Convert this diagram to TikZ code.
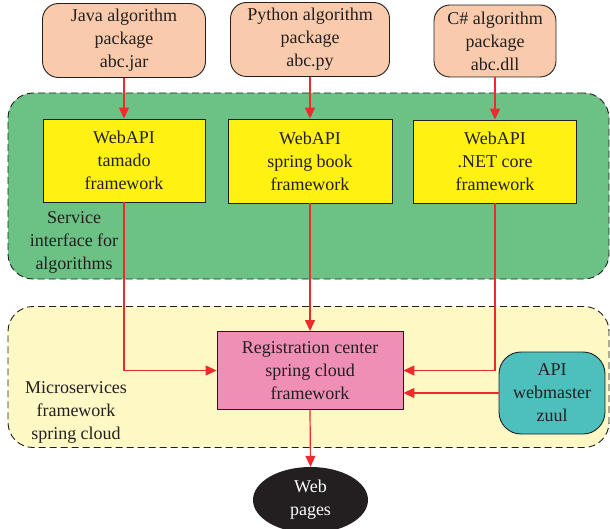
\documentclass[tikz,border=0pt]{standalone}
\usepackage{fontspec}
\setmainfont{Liberation Serif}
\usetikzlibrary{arrows.meta,shapes.geometric}
\definecolor{peach}{HTML}{F9CBAC}
\definecolor{greenbg}{HTML}{6CC185}
\definecolor{yelbox}{HTML}{FFF212}
\definecolor{yelbg}{HTML}{FEF8C5}
\definecolor{pinkbox}{HTML}{F08FB5}
\definecolor{tealbox}{HTML}{4DC0BE}
\definecolor{darkink}{HTML}{231F20}
\definecolor{redarrow}{HTML}{EE2A2A}
\tikzset{
  txt/.style={font=\fontsize{18}{23}\selectfont, text=darkink, align=center},
  region/.style={draw=darkink, dashed, dash pattern=on 7pt off 4pt, line width=0.9pt, rounded corners=25pt},
  pkg/.style={txt, draw=darkink, line width=0.9pt, fill=peach, rounded corners=16pt, inner sep=0pt},
  apibox/.style={txt, draw=darkink, line width=0.9pt, fill=yelbox, inner sep=0pt},
  arr/.style={draw=redarrow, line width=1.2pt, -{Triangle[length=11pt,width=10pt]}},
}
\begin{document}
\begin{tikzpicture}[x=1pt,y=-1pt]
\useasboundingbox (0,0) rectangle (610,529);
\clip (0,0) rectangle (610,529);
% regions
\node[region, fill=greenbg, minimum width=601pt, minimum height=186pt] (svc) at (308.5,186) {};
\node[region, fill=yelbg, minimum width=601pt, minimum height=141pt] (micro) at (308.5,377) {};
% top packages
\node[pkg, minimum width=163pt, minimum height=74pt] (java) at (124,40.5) {Java algorithm\\package\\abc.jar};
\node[pkg, minimum width=159pt, minimum height=74pt] (py) at (310,39.5) {Python algorithm\\package\\abc.py};
\node[pkg, minimum width=122pt, minimum height=72pt] (cs) at (495,41) {C\# algorithm\\package\\abc.dll};
% webapi boxes
\node[apibox, minimum width=162pt, minimum height=83pt] (wa1) at (124,160.5) {WebAPI\\tamado\\framework};
\node[apibox, minimum width=164pt, minimum height=84pt] (wa2) at (310,161) {WebAPI\\spring book\\framework};
\node[apibox, minimum width=163pt, minimum height=83pt] (wa3) at (495,161.5) {WebAPI\\.NET core\\framework};
% labels
\node[txt] (svclbl) at (74,242) {Service\\interface for\\algorithms};
\node[txt] (microlbl) at (76,412) {Microservices\\framework\\spring cloud};
% registration center
\node[txt, draw=darkink, line width=0.9pt, fill=pinkbox, minimum width=186pt, minimum height=78pt, inner sep=0pt] (reg) at (310,370.5) {Registration center\\spring cloud\\framework};
% zuul
\node[txt, draw=darkink, line width=0.9pt, fill=tealbox, rounded corners=22pt, minimum width=106pt, minimum height=82pt, inner sep=0pt] (zuul) at (552,393) {API\\webmaster\\zuul};
% web pages
\node[ellipse, fill=darkink, minimum width=115pt, minimum height=66pt, inner sep=0pt, font=\fontsize{18}{23}\selectfont, text=white, align=center] (web) at (310.5,500) {Web\\pages};
% connectors
\draw[arr] (java.south -| wa1.north) -- (wa1.north);
\draw[arr] (py.south -| wa2.north) -- (wa2.north);
\draw[arr] (cs.south -| wa3.north) -- (wa3.north);
\draw[arr] (wa1.south) |- (reg.west);
\draw[arr] (wa2.south) -- (reg.north);
\draw[arr] (wa3.south) |- (reg.east);
\draw[arr] (zuul.west) -- (zuul.west -| reg.east);
\draw[arr] (reg.south) -- (web.north);
\end{tikzpicture}
\end{document}
